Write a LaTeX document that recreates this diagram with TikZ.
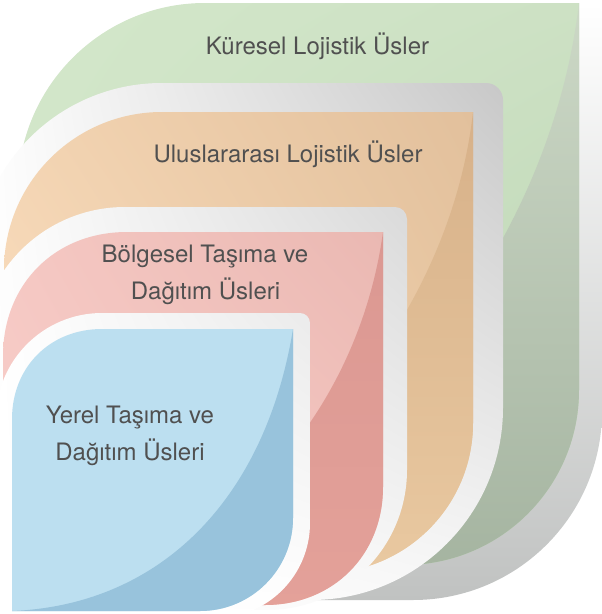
\documentclass[tikz,border=0pt]{standalone}
\usepackage{fontspec}
\usetikzlibrary{shadings}
\setmainfont{TeX Gyre Heros}
\definecolor{txtgray}{HTML}{505050}
\definecolor{bluelight}{HTML}{BCDFF0}
\definecolor{bluefold}{HTML}{98C3DC}
\begin{document}
\begin{tikzpicture}[x=1pt,y=-1pt,
  lbl/.style={font=\fontsize{24}{28}\selectfont, text=txtgray, inner sep=0pt, anchor=base}]
\useasboundingbox (0,0) rectangle (602,614);
% paths
\def\frameA{(18,600) -- (18,190) .. controls (18,86.7) and (101.7,3) .. (205,3) -- (590,3) .. controls (597,3) and (602,8) .. (602,15) -- (602,411) .. controls (602,515.4) and (517.4,600) .. (413,600) -- cycle}
\def\greenleaf{(18,565) -- (18,190) .. controls (18,86.7) and (101.7,3) .. (205,3) -- (579,3) -- (579,390) .. controls (579,486.7) and (500.7,565) .. (404,565) -- cycle}
\def\frameB{(-25,600) -- (-25,270) .. controls (-25,166.7) and (58.7,83) .. (162,83) -- (486,83) .. controls (495.4,83) and (503,90.6) .. (503,100) -- (503,408) .. controls (503,514) and (417,600) .. (311,600) -- cycle}
\def\orangeleaf{(4,573) -- (4,270) .. controls (4,182.7) and (74.7,112) .. (162,112) -- (473,112) -- (473,423) .. controls (473,505.8) and (405.8,573) .. (323,573) -- cycle}
\def\frameC{(-22,610) -- (-22,354) .. controls (-22,272.8) and (43.8,207) .. (125,207) -- (395,207) .. controls (401.6,207) and (407,212.4) .. (407,219) -- (407,470) .. controls (407,547.3) and (344.3,610) .. (267,610) -- cycle}
\def\pinkleaf{(3,605) -- (3,356) .. controls (3,284) and (55,232) .. (127,232) -- (383,232) -- (383,487) .. controls (383,555) and (333,605) .. (265,605) -- cycle}
\def\frameD{(-4,618) -- (-4,419) .. controls (-4,360.5) and (43.5,313) .. (102,313) -- (300,313) .. controls (305.5,313) and (310,317.5) .. (310,323) -- (310,523) .. controls (310,575.5) and (267.5,618) .. (215,618) -- cycle}
\def\blueleaf{(12,611) -- (12,419) .. controls (12,367) and (50,329) .. (102,329) -- (293,329) -- (293,518) .. controls (293,569.4) and (251.4,611) .. (200,611) -- cycle}
% frame 1 and green
\shade[top color=white, bottom color={rgb,255:red,192;green,194;blue,193}] \frameA;
\shade[upper left={rgb,255:red,211;green,231;blue,202}, upper right={rgb,255:red,205;green,225;blue,196},
       lower left={rgb,255:red,208;green,228;blue,199}, lower right={rgb,255:red,185;green,212;blue,177}] \greenleaf;
\begin{scope}
  \clip \greenleaf;
  \shade[top color={rgb,255:red,204;green,216;blue,198}, bottom color={rgb,255:red,156;green,172;blue,152}]
    (579,3) .. controls (550,250) and (360,520) .. (18,590) -- (18,700) -- (700,700) -- (700,3) -- cycle;
\end{scope}
% frame 2 and orange
\shade[upper left=white, upper right={rgb,255:red,200;green,200;blue,200},
       lower left=white, lower right={rgb,255:red,248;green,248;blue,248}] \frameB;
\shade[upper left={rgb,255:red,243;green,212;blue,178}, upper right={rgb,255:red,226;green,192;blue,156},
       lower left={rgb,255:red,253;green,226;blue,197}, lower right={rgb,255:red,236;green,203;blue,165}] \orangeleaf;
\begin{scope}
  \clip \orangeleaf;
  \shade[top color={rgb,255:red,215;green,177;blue,137}, bottom color={rgb,255:red,238;green,207;blue,167}]
    (473,112) .. controls (450,320) and (280,540) .. (4,600) -- (4,700) -- (700,700) -- (700,112) -- cycle;
\end{scope}
% frame 3 and pink
\shade[upper left=white, upper right={rgb,255:red,218;green,218;blue,218},
       lower left=white, lower right={rgb,255:red,250;green,250;blue,250}] \frameC;
\shade[upper left={rgb,255:red,245;green,200;blue,195}, upper right={rgb,255:red,234;green,184;blue,178},
       lower left={rgb,255:red,249;green,207;blue,203}, lower right={rgb,255:red,245;green,198;blue,193}] \pinkleaf;
\begin{scope}
  \clip \pinkleaf;
  \shade[top color={rgb,255:red,219;green,152;blue,146}, bottom color={rgb,255:red,230;green,163;blue,155}]
    (383,232) .. controls (360,400) and (240,570) .. (3,611) -- (3,700) -- (700,700) -- (700,232) -- cycle;
\end{scope}
% frame 4 and blue
\shade[upper left=white, upper right={rgb,255:red,235;green,235;blue,235},
       lower left=white, lower right=white] \frameD;
\fill[bluelight] \blueleaf;
\begin{scope}
  \clip \blueleaf;
  \fill[bluefold] (293,329) .. controls (265,500) and (160,605) .. (12,611) -- (12,700) -- (700,700) -- (700,329) -- cycle;
\end{scope}
% labels
\node[lbl] (t1) at (317.5,54) {Küresel Lojistik Üsler};
\node[lbl] (t2) at (288,162) {Uluslararası Lojistik Üsler};
\node[lbl] (t3a) at (205,262.5) {Bölgesel Taşıma ve};
\node[lbl] (t3b) at (205.5,299) {Dağıtım Üsleri};
\node[lbl] (t4a) at (130,423) {Yerel Taşıma ve};
\node[lbl] (t4b) at (130,460) {Dağıtım Üsleri};
\end{tikzpicture}
\end{document}
